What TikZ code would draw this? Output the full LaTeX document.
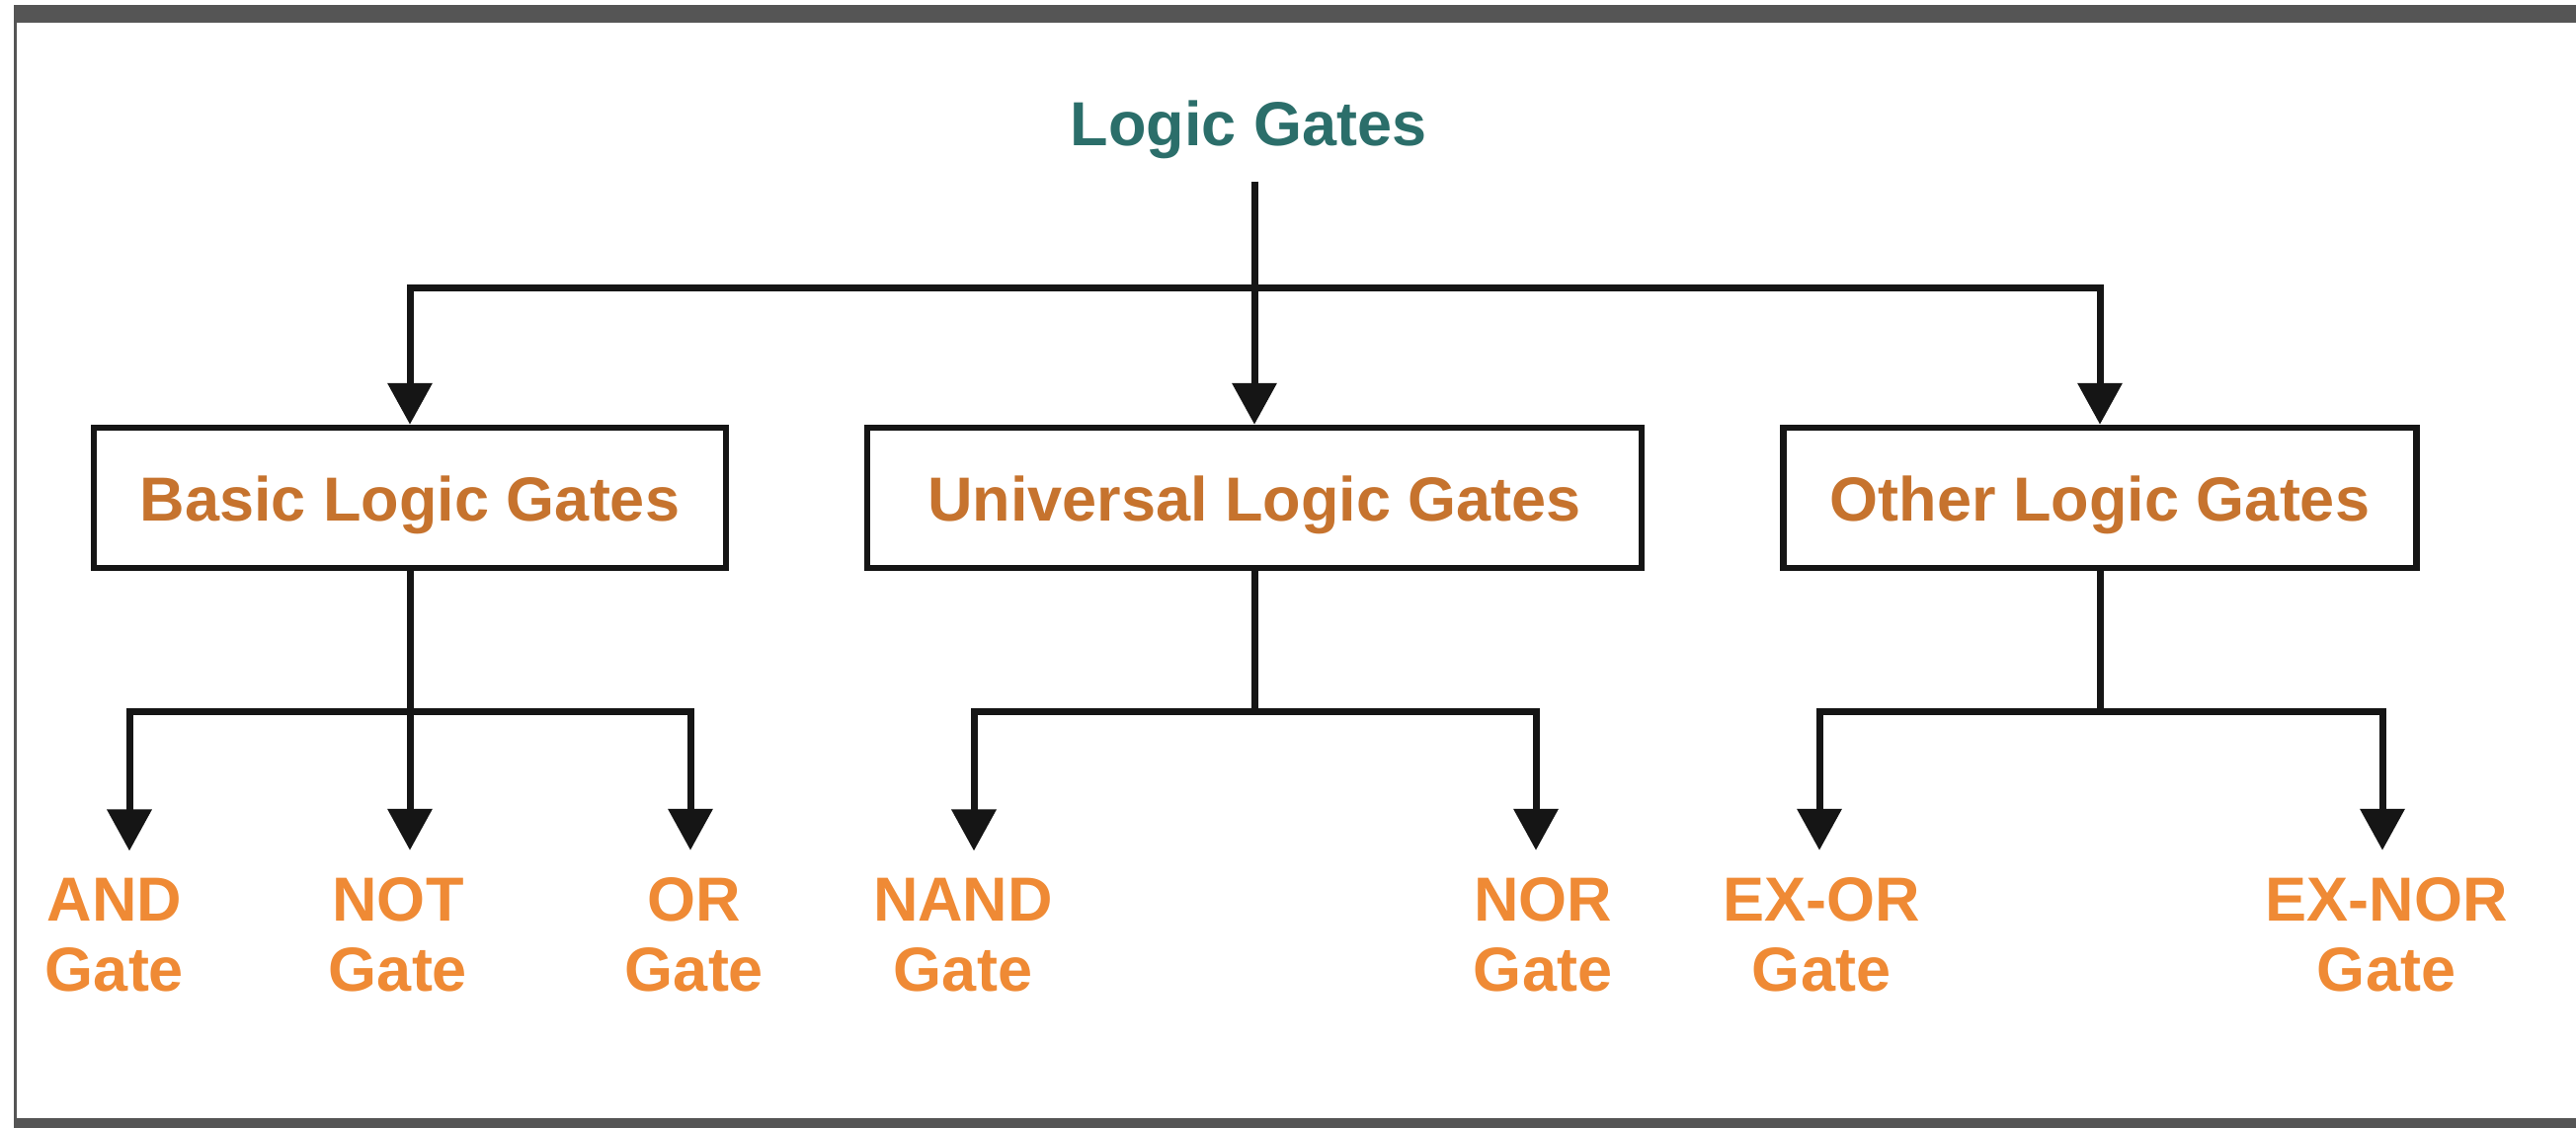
\documentclass[tikz,border=0pt]{standalone}
\usepackage{fontspec}
\setmainfont{Liberation Sans}
\usetikzlibrary{arrows.meta}
\definecolor{titlecol}{HTML}{2B6E6A}
\definecolor{boxtxt}{HTML}{C6732E}
\definecolor{leaftxt}{HTML}{EF8A35}
\definecolor{framecol}{HTML}{555555}
\definecolor{linecol}{HTML}{151515}
\begin{document}
\begin{tikzpicture}[x=1pt,y=-1pt,
  conn/.style={line width=7pt, color=linecol},
  arr/.style={conn, -{Triangle[length=42pt,width=44pt]}},
  bigfont/.style={font=\fontsize{63}{71}\selectfont\bfseries},
  catbox/.style={bigfont, draw=linecol, line width=6.5pt, minimum width=640pt, minimum height=142pt,
    inner sep=0pt, text=boxtxt, text height=59pt, text depth=13pt},
  leaf/.style={bigfont, text=leaftxt, align=center, inner sep=0pt, anchor=base},
]
% canvas and frame
\fill[white] (0,0) rectangle (2608,1142);
\useasboundingbox (0,0) rectangle (2608,1142);
\fill[framecol] (14,5) rectangle (2608,23);
\fill[framecol] (14,1132) rectangle (2608,1142);
\fill[framecol] (14,5) rectangle (17,1142);

% title
\node[bigfont, text=titlecol, anchor=base, inner sep=0pt] (t) at (1264,148) {Logic Gates};

% category boxes
\node[catbox] (b1) at (415,504) {Basic Logic Gates};
\node[catbox, minimum width=784pt] (b2) at (1270,504) {Universal Logic Gates};
\node[catbox, minimum width=641pt] (b3) at (2126,504) {Other Logic Gates};

% junctions
\coordinate (j0) at (1270,291);
\coordinate (j1) at (415,720);
\coordinate (j2) at (1270,720);
\coordinate (j3) at (2126,720);

% leaves (base anchor = baseline of the last line)
\node[leaf] (lAND) at (116,1003) {AND\\Gate};
\node[leaf] (lNOT) at (403,1003) {NOT\\Gate};
\node[leaf] (lOR) at (703,1003) {OR\\Gate};
\node[leaf] (lNAND) at (975,1003) {NAND\\Gate};
\node[leaf] (lNOR) at (1562,1003) {NOR\\Gate};
\node[leaf] (lEXOR) at (1844,1003) {EX-OR\\Gate};
\node[leaf] (lEXNOR) at (2416,1003) {EX-NOR\\Gate};

% top level connectors
\draw[conn, shorten <=22pt] (t.south -| j0) -- (j0);
\draw[arr] (j0) -| (b1.north);
\draw[arr] (j0) -- (b2.north);
\draw[arr] (j0) -| (b3.north);

% basic
\draw[conn] (b1.south) -- (j1);
\draw[arr, shorten >=27pt] (j1) -| ([xshift=15pt]lAND.north);
\draw[arr, shorten >=27pt] (j1) -- (j1 |- lNOT.north);
\draw[arr, shorten >=27pt] (j1) -| ([xshift=-4pt]lOR.north);

% universal
\draw[conn] (b2.south) -- (j2);
\draw[arr, shorten >=27pt] (j2) -| ([xshift=11pt]lNAND.north);
\draw[arr, shorten >=27pt] (j2) -| ([xshift=-7pt]lNOR.north);

% other
\draw[conn] (b3.south) -- (j3);
\draw[arr, shorten >=27pt] (j3) -| ([xshift=-2pt]lEXOR.north);
\draw[arr, shorten >=27pt] (j3) -| ([xshift=-4pt]lEXNOR.north);
\end{tikzpicture}
\end{document}
